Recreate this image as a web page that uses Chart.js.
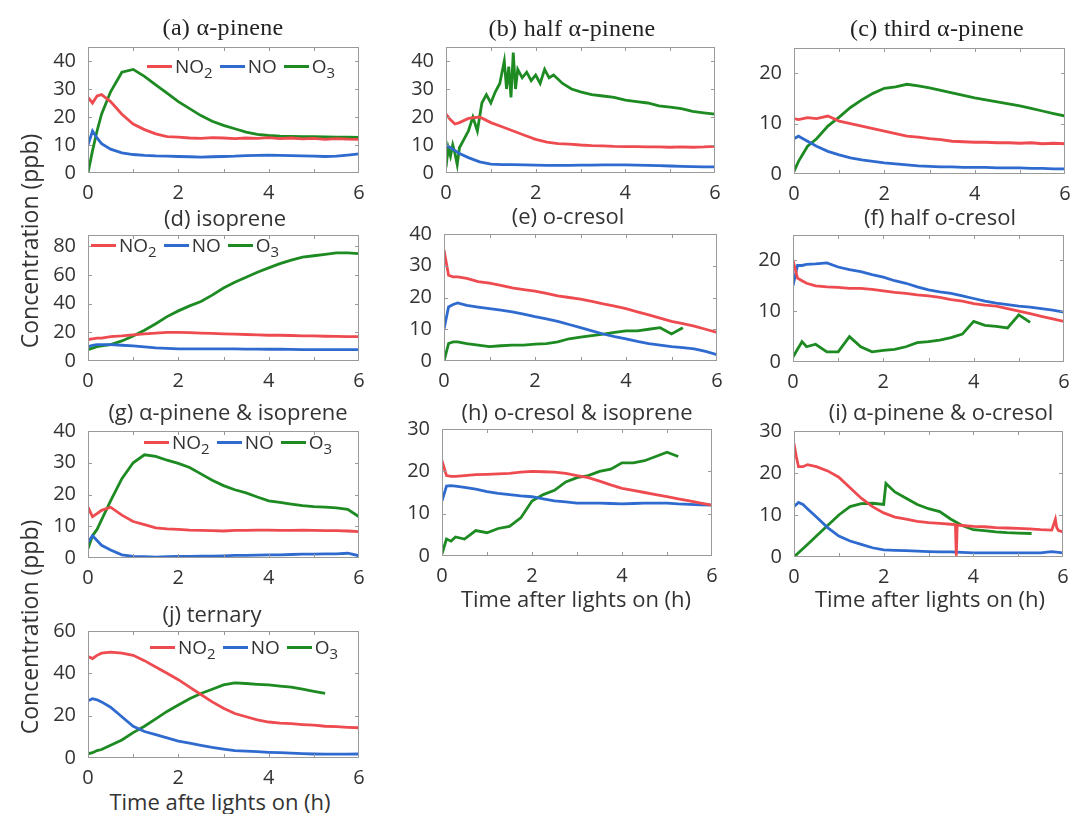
<!DOCTYPE html>
<html>
<head>
<meta charset="utf-8">
<script src="https://cdn.jsdelivr.net/npm/chart.js@4.4.1/dist/chart.umd.min.js"></script>
<style>
  body { margin: 0; width: 1074px; height: 814px; background: #fff; position: relative; overflow: hidden;
         font-family: 'Open Sans', sans-serif; color: #333; }
  .panel { position: absolute; }
  .title { position: absolute; white-space: nowrap; transform: translate(-50%, -50%); font-size: 22px; }
  .title.serif { font-family: 'Liberation Serif', serif; font-size: 24px; letter-spacing: 0.3px; color: #222; }
  .ylab { position: absolute; white-space: nowrap; font-size: 23px; transform: translate(-50%, -50%) rotate(-90deg); }
  .xlab { position: absolute; white-space: nowrap; font-size: 22px; transform: translate(-50%, -50%); }
  .legend { position: absolute; display: flex; align-items: center; height: 24px; font-size: 19px; white-space: nowrap; }
  .legend .ln { display: inline-block; width: 25px; height: 3px; margin: 0 3px 0 7px; }
  .legend sub { font-size: 15px; vertical-align: -5px; line-height: 0; }
</style>
</head>
<body>
<script>
// time axis (h) shared by most series
const hours = [0, 0.1, 0.2, 0.3, 0.5, 0.75, 1, 1.25, 1.5, 1.75, 2, 2.25, 2.5, 2.75, 3, 3.25, 3.5, 3.75, 4, 4.25, 4.5, 4.75, 5, 5.25, 5.5, 5.75, 6];
const xTicks = [0, 2, 4, 6];
const seriesNames = ['NO2', 'NO', 'O3'];

// (a) alpha-pinene
const aNO2 = [27, 25, 27.5, 28, 25.5, 21, 17.5, 15.5, 14, 13, 12.8, 12.5, 12.4, 12.6, 12.5, 12.3, 12.5, 12.4, 12.6, 12.3, 12.5, 12.2, 12.4, 12.0, 12.3, 12.1, 12.0];
const aNO  = [10, 15, 12.5, 10.5, 8.5, 7.2, 6.6, 6.3, 6.1, 6.0, 5.9, 5.8, 5.7, 5.8, 5.9, 6.0, 6.2, 6.3, 6.4, 6.3, 6.2, 6.1, 6.0, 5.9, 6.0, 6.4, 6.8];
const aO3  = [0, 8, 15, 21, 29, 36, 37, 34.5, 31.5, 28.5, 25.5, 23, 20.5, 18.5, 17, 15.8, 14.6, 13.8, 13.4, 13.2, 13.1, 13.0, 13.0, 12.9, 12.8, 12.8, 12.7];

// (b) half alpha-pinene
const bNO2 = [21, 19, 17.5, 18, 19.5, 20, 18, 16.5, 15, 13.5, 12, 11, 10.5, 10.3, 10, 9.8, 9.7, 9.5, 9.4, 9.4, 9.3, 9.3, 9.2, 9.3, 9.2, 9.3, 9.5];
const bNO  = [10, 9, 8, 7, 5.5, 4, 3.2, 3, 3, 2.9, 2.8, 2.7, 2.7, 2.7, 2.8, 2.8, 2.9, 2.9, 2.9, 2.8, 2.7, 2.6, 2.5, 2.4, 2.3, 2.2, 2.2];
const bO3Hours = [0, 0.05, 0.1, 0.15, 0.2, 0.25, 0.3, 0.4, 0.5, 0.6, 0.7, 0.8, 0.9, 1.0, 1.1, 1.2, 1.3, 1.35, 1.4, 1.45, 1.5, 1.55, 1.6, 1.7, 1.8, 1.9, 2.0, 2.1, 2.2, 2.3, 2.4, 2.6, 2.8, 3.0, 3.25, 3.5, 3.75, 4.0, 4.25, 4.5, 4.75, 5.0, 5.25, 5.5, 5.75, 6.0];
const bO3  = [2, 9, 6, 10, 7, 3, 9, 12, 15, 20, 15, 25, 28, 25, 29, 32, 40, 30, 38, 27, 43, 30, 37, 34, 36, 33, 35, 32, 37, 34, 35, 32, 30, 29, 28, 27.5, 27, 26, 25.5, 25, 24, 23.5, 23, 22, 21.5, 21];

// (c) third alpha-pinene
const cNO2 = [11, 10.8, 11, 11.2, 11, 11.5, 10.5, 10, 9.5, 9, 8.5, 8, 7.5, 7.3, 7, 6.8, 6.5, 6.4, 6.3, 6.3, 6.2, 6.2, 6.1, 6.2, 6.0, 6.1, 6.0];
const cNO  = [7, 7.5, 7, 6.5, 5.5, 4.5, 3.8, 3.2, 2.8, 2.5, 2.2, 2.0, 1.8, 1.6, 1.5, 1.4, 1.4, 1.3, 1.3, 1.3, 1.2, 1.2, 1.2, 1.1, 1.1, 1.0, 1.0];
const cO3  = [0.5, 2.5, 4, 5.5, 7, 9.5, 11.3, 13.2, 14.7, 16, 17, 17.3, 17.8, 17.5, 17.1, 16.6, 16.1, 15.6, 15.1, 14.7, 14.3, 13.9, 13.5, 13, 12.5, 12, 11.5];

// (d) isoprene
const dNO2 = [15, 15.5, 16, 16, 17, 17.5, 18.2, 19, 19.5, 20, 20, 19.8, 19.5, 19.3, 19, 18.8, 18.5, 18.3, 18, 18, 17.8, 17.5, 17.5, 17.3, 17.2, 17, 17];
const dNO  = [10, 11, 11.5, 11.5, 11.5, 11, 10.5, 9.8, 9.2, 8.8, 8.5, 8.5, 8.5, 8.5, 8.5, 8.4, 8.3, 8.3, 8.2, 8.2, 8.1, 8.0, 8.0, 8.0, 8.0, 8.0, 8.0];
const dO3  = [8, 9, 10, 10.5, 11.5, 14, 17.5, 21.5, 26, 31, 35, 38.5, 41.5, 46, 51, 55, 58.5, 62, 65, 68, 70.5, 72.5, 73.5, 74.5, 75.5, 75.5, 75];

// (e) o-cresol
const eNO2 = [35, 27, 26.5, 26.5, 26, 25, 24.5, 23.8, 23, 22.5, 22, 21.3, 20.5, 20, 19.5, 18.8, 18, 17.3, 16.5, 15.5, 14.5, 13.5, 12.5, 11.8, 11, 10, 9];
const eNO  = [10, 17, 17.8, 18.3, 17.5, 17, 16.5, 16, 15.5, 14.8, 14, 13.3, 12.5, 11.5, 10.5, 9.5, 8.5, 7.7, 7, 6.2, 5.5, 5, 4.5, 4.2, 3.8, 3, 2];
const eO3  = [0, 5.5, 6, 6, 5.5, 5, 4.5, 4.8, 5, 5, 5.3, 5.5, 6, 7, 7.5, 8, 8.5, 9, 9.5, 9.5, 10, 10.5, 8.5, 10.5, null, null, null];

// (f) half o-cresol
const fNO2 = [20, 16.5, 16, 15.5, 15, 14.8, 14.7, 14.5, 14.5, 14.3, 14, 13.7, 13.5, 13.2, 13, 12.7, 12.3, 12, 11.5, 11.2, 11, 10.5, 10, 9.5, 9, 8.5, 8];
const fNO  = [15, 19, 19, 19.2, 19.3, 19.5, 18.7, 18.2, 17.8, 17.2, 16.7, 16, 15.5, 14.8, 14.2, 13.8, 13.5, 13, 12.5, 12, 11.6, 11.3, 11, 10.8, 10.5, 10.2, 9.8];
const fO3  = [1, 2.5, 4, 3, 3.5, 2, 2, 5, 3, 2, 2.3, 2.5, 3, 3.8, 4, 4.3, 4.8, 5.5, 8, 7.2, 7, 6.7, 9.3, 7.8, null, null, null];

// (g) alpha-pinene & isoprene
const gNO2 = [16, 13, 14, 15, 16, 13.5, 11.5, 10.5, 9.5, 9.2, 9, 8.8, 8.7, 8.6, 8.5, 8.7, 8.7, 8.8, 8.8, 8.7, 8.7, 8.8, 8.7, 8.6, 8.6, 8.5, 8.3];
const gNO  = [5, 7, 5.5, 4, 2.5, 1, 0.5, 0.4, 0.3, 0.4, 0.5, 0.5, 0.6, 0.6, 0.7, 0.8, 0.8, 0.9, 1, 1, 1.1, 1.2, 1.2, 1.3, 1.3, 1.5, 0.7];
const gO3  = [3, 7, 9, 12, 18, 25, 30, 32.5, 32, 30.8, 29.8, 28.5, 26.5, 24.5, 22.8, 21.5, 20.5, 19.2, 18, 17.5, 17, 16.5, 16.2, 16, 15.8, 15.3, 13];

// (h) o-cresol & isoprene
const hNO2 = [22.5, 19, 18.8, 18.8, 19, 19.2, 19.3, 19.4, 19.5, 19.8, 20, 19.9, 19.8, 19.5, 19, 18.5, 17.7, 16.8, 16, 15.5, 15, 14.5, 14, 13.5, 13, 12.5, 12];
const hNO  = [13, 16.5, 16.6, 16.5, 16.2, 15.8, 15.2, 14.8, 14.5, 14.2, 14, 13.5, 13, 12.8, 12.5, 12.5, 12.5, 12.4, 12.3, 12.4, 12.5, 12.5, 12.5, 12.3, 12.2, 12.1, 12];
const hO3  = [0.5, 4, 3.5, 4.5, 4, 6, 5.5, 6.5, 7, 9, 13, 14.5, 15.5, 17.5, 18.5, 19, 20, 20.5, 22, 22, 22.5, 23.5, 24.5, 23.5, null, null, null];

// (i) alpha-pinene & o-cresol
const iNO2Hours = [0, 0.05, 0.1, 0.2, 0.3, 0.5, 0.75, 1, 1.25, 1.5, 1.75, 2, 2.25, 2.5, 2.75, 3, 3.25, 3.5, 3.6, 3.62, 3.64, 3.75, 4, 4.25, 4.5, 4.75, 5, 5.25, 5.5, 5.75, 5.83, 5.86, 5.9, 6];
const iNO2 = [27, 24, 21.5, 21.5, 22, 21.5, 20.5, 19, 16.5, 14, 12, 10.5, 9.5, 9, 8.5, 8.2, 8, 7.8, 7.7, 0.3, 7.6, 7.5, 7.3, 7.2, 7, 6.9, 6.8, 6.7, 6.5, 6.4, 9, 7, 6.3, 6];
const iNO  = [12, 13, 12.5, 11.5, 9.5, 7, 5, 3.8, 3, 2.2, 1.7, 1.6, 1.5, 1.4, 1.3, 1.2, 1.2, 1.1, 1, 1, 1, 1, 1, 1, 1, 1.3, 1];
const iO3Hours = [0, 0.1, 0.3, 0.5, 0.75, 1, 1.25, 1.5, 1.75, 2, 2.05, 2.25, 2.5, 2.75, 3, 3.25, 3.5, 3.75, 4, 4.25, 4.5, 4.75, 5, 5.3];
const iO3  = [0, 1, 3, 5, 7.5, 10, 12, 12.7, 12.8, 12.5, 17.5, 15.5, 14, 12.5, 11.5, 10.8, 9, 7.5, 6.5, 6.3, 6, 5.8, 5.7, 5.6];

// (j) ternary
const jNO2 = [48, 47, 48.5, 49.5, 50, 49.5, 48.5, 46, 43, 40, 37, 33.5, 30, 26.5, 23.5, 21, 19.5, 18, 17, 16.5, 16.2, 15.8, 15.5, 15, 14.8, 14.5, 14.3];
const jNO  = [27, 28, 27.5, 26.5, 24, 19.5, 15, 12.5, 11, 9.5, 8, 7, 6, 5, 4.2, 3.5, 3.2, 3, 2.7, 2.5, 2.3, 2.1, 1.9, 1.8, 1.8, 1.8, 1.9];
const jO3  = [2, 2.5, 3.5, 4, 6, 8.5, 12, 15, 18.5, 22, 25, 28, 30.5, 32.5, 34.5, 35.5, 35.2, 34.8, 34.5, 34, 33.5, 32.5, 31.5, 30.5, null, null, null];

const RED = '#ee4b50', BLUE = '#2f6bcf', GREEN = '#1d8a22';
const TICK_COLOR = '#333';
const AXW = 44, AXH = 28, PADT = 12, PADR = 12;

// box = plot area [left, top, right, bottom] in page pixels
const panels = [
  { title: '(a) α-pinene', serif: true, tx: 223, ty: 27, box: [88, 43, 359, 173], yMax: 45, yStep: 10, legend: [140, 66],
    series: [[hours, aNO2, RED], [hours, aNO, BLUE], [hours, aO3, GREEN]] },
  { title: '(b) half α-pinene', serif: true, tx: 572, ty: 28, box: [446, 43, 715, 173], yMax: 45, yStep: 10,
    series: [[hours, bNO2, RED], [hours, bNO, BLUE], [bO3Hours, bO3, GREEN]] },
  { title: '(c) third α-pinene', serif: true, tx: 937, ty: 28, box: [794, 44, 1065, 174], yMax: 25, yStep: 10,
    series: [[hours, cNO2, RED], [hours, cNO, BLUE], [hours, cO3, GREEN]] },
  { title: '(d) isoprene', tx: 225, ty: 217, box: [88, 231, 359, 361], yMax: 88, yStep: 20, legend: [84, 245],
    series: [[hours, dNO2, RED], [hours, dNO, BLUE], [hours, dO3, GREEN]] },
  { title: '(e) o-cresol', tx: 568, ty: 215, box: [444, 230, 717, 361], yMax: 40, yStep: 10,
    series: [[hours, eNO2, RED], [hours, eNO, BLUE], [hours, eO3, GREEN]] },
  { title: '(f) half o-cresol', tx: 940, ty: 216, box: [793, 231, 1064, 362], yMax: 25, yStep: 10,
    series: [[hours, fNO2, RED], [hours, fNO, BLUE], [hours, fO3, GREEN]] },
  { title: '(g) α-pinene & isoprene', tx: 228, ty: 411, box: [88, 427, 359, 558], yMax: 40, yStep: 10, legend: [137, 442],
    series: [[hours, gNO2, RED], [hours, gNO, BLUE], [hours, gO3, GREEN]] },
  { title: '(h) o-cresol & isoprene', tx: 577, ty: 411, box: [442, 425, 712, 556], yMax: 30, yStep: 10,
    series: [[hours, hNO2, RED], [hours, hNO, BLUE], [hours, hO3, GREEN]] },
  { title: '(i) α-pinene & o-cresol', tx: 941, ty: 411, box: [794, 427, 1063, 557], yMax: 30, yStep: 10,
    series: [[iNO2Hours, iNO2, RED], [hours, iNO, BLUE], [iO3Hours, iO3, GREEN]] },
  { title: '(j) ternary', tx: 212, ty: 613, box: [88, 627, 359, 758], yMax: 60, yStep: 20, legend: [143, 647],
    series: [[hours, jNO2, RED], [hours, jNO, BLUE], [hours, jO3, GREEN]] }
];

// MATLAB-like box with inward tick marks
const framePlugin = {
  id: 'frame',
  afterDatasetsDraw(chart) {
    const { ctx, chartArea: { left, top, right, bottom }, scales: { x, y } } = chart;
    ctx.save();
    ctx.strokeStyle = '#9a9a9a';
    ctx.lineWidth = 1;
    ctx.strokeRect(left + 0.5, top + 0.5, right - left - 1, bottom - top - 1);
    ctx.beginPath();
    for (let h = 1; h < 6; h++) {
      const px = Math.round(x.getPixelForValue(h)) + 0.5;
      ctx.moveTo(px, bottom); ctx.lineTo(px, bottom - 4);
      ctx.moveTo(px, top); ctx.lineTo(px, top + 4);
    }
    y.ticks.forEach(t => {
      if (t.value <= y.min || t.value >= y.max) return;
      const py = Math.round(y.getPixelForValue(t.value)) + 0.5;
      ctx.moveTo(left, py); ctx.lineTo(left + 4, py);
      ctx.moveTo(right, py); ctx.lineTo(right - 4, py);
    });
    ctx.stroke();
    ctx.restore();
  }
};

function addText(cls, text, x, y) {
  const el = document.createElement('div');
  el.className = cls;
  el.textContent = text;
  el.style.left = x + 'px';
  el.style.top = y + 'px';
  document.body.appendChild(el);
}

function addLegend(x, y) {
  const colors = [RED, BLUE, GREEN];
  const el = document.createElement('div');
  el.className = 'legend';
  el.style.left = x + 'px';
  el.style.top = (y - 12) + 'px';
  seriesNames.forEach((name, i) => {
    const m = name.match(/^([A-Z]+)(\d?)$/);
    el.innerHTML += `<span class="ln" style="background:${colors[i]}"></span>` +
      `<span>${m[1]}${m[2] ? '<sub>' + m[2] + '</sub>' : ''}</span>`;
  });
  document.body.appendChild(el);
}

panels.forEach(p => {
  const [L, T, R, B] = p.box;
  const wrap = document.createElement('div');
  wrap.className = 'panel';
  wrap.style.left = (L - AXW) + 'px';
  wrap.style.top = (T - PADT) + 'px';
  wrap.style.width = (R - L + AXW + PADR) + 'px';
  wrap.style.height = (B - T + PADT + AXH) + 'px';
  const canvas = document.createElement('canvas');
  wrap.appendChild(canvas);
  document.body.appendChild(wrap);

  new Chart(canvas, {
    type: 'line',
    data: {
      datasets: p.series.map(([xs, ys, color], k) => ({
        label: seriesNames[k],
        data: xs.map((x, i) => ({ x: x, y: ys[i] })),
        borderColor: color,
        borderWidth: 2.8,
        pointRadius: 0,
        tension: 0,
        fill: false
      }))
    },
    options: {
      responsive: true,
      maintainAspectRatio: false,
      animation: false,
      layout: { padding: { top: PADT, right: PADR, left: 0, bottom: 0 } },
      scales: {
        x: {
          type: 'linear', min: 0, max: 6,
          afterBuildTicks: s => { s.ticks = xTicks.map(v => ({ value: v })); },
          afterFit: s => { s.height = AXH; },
          grid: { display: false }, border: { display: false },
          ticks: { color: TICK_COLOR, font: { family: 'Open Sans', size: 20 }, padding: 0, maxRotation: 0 }
        },
        y: {
          min: 0, max: p.yMax,
          afterFit: s => { s.width = AXW; },
          grid: { display: false }, border: { display: false },
          ticks: { stepSize: p.yStep, includeBounds: false, color: TICK_COLOR, font: { family: 'Open Sans', size: 20 }, padding: 4 }
        }
      },
      plugins: { legend: { display: false }, tooltip: { enabled: false } }
    },
    plugins: [framePlugin]
  });

  addText(p.serif ? 'title serif' : 'title', p.title, p.tx, p.ty);
  if (p.legend) addLegend(p.legend[0], p.legend[1]);
});

addText('ylab', 'Concentration (ppb)', 29, 241);
addText('ylab', 'Concentration (ppb)', 29, 627);
addText('xlab', 'Time after lights on (h)', 576, 598);
addText('xlab', 'Time after lights on (h)', 930, 598);
addText('xlab', 'Time afte lights on (h)', 220, 801);
</script>
</body>
</html>
